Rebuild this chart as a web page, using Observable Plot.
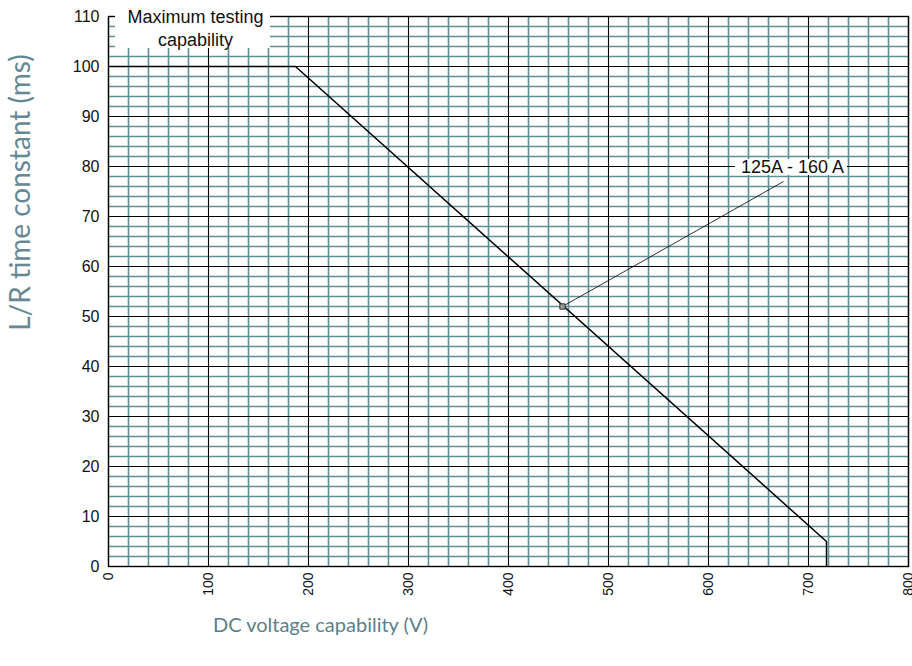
<!DOCTYPE html>
<html>
<head>
<meta charset="utf-8">
<script src="https://cdn.jsdelivr.net/npm/d3@7"></script>
<script src="https://cdn.jsdelivr.net/npm/@observablehq/plot@0.6"></script>
<style>
  html, body { margin: 0; padding: 0; background: #fff; }
  #chart svg { display: block; }
</style>
</head>
<body>
<div id="chart"></div>
<script>
// ---- data ----
const xMajorTicks = [0, 100, 200, 300, 400, 500, 600, 700, 800];
const yMajorTicks = [0, 10, 20, 30, 40, 50, 60, 70, 80, 90, 100, 110];
const xMinorTicks = d3.range(0, 801, 20).filter(v => v % 100 !== 0);
const yMinorTicks = d3.range(0, 111, 2).filter(v => v % 10 !== 0);

const curveVoltage = [0, 187, 718, 718];
const curveTau     = [100, 100, 5, 0];

const markerPoint = {x: 454, y: 52};
const leaderEnd = {x: 675, y: 77};
const seriesLabel = "125A - 160 A";
const seriesLabelPos = {x: 684, y: 79.8};
const maxLabel = "Maximum testing\ncapability";
const maxLabelPos = {x: 87, y: 107.9};

const xTitle = "DC voltage capability (V)";
const yTitle = "L/R time constant (ms)";

const curve = curveVoltage.map((v, i) => ({v, t: curveTau[i]}));

const teal = "#5f8e97";
const titleColor = "#5b7f8a";

const chart = Plot.plot({
  width: 912,
  height: 666,
  marginLeft: 108,
  marginRight: 4,
  marginTop: 16,
  marginBottom: 100,
  style: {fontFamily: "'Liberation Sans', Arial, sans-serif", background: "#fff"},
  x: {domain: [0, 800]},
  y: {domain: [0, 110]},
  marks: [
    Plot.ruleX(xMinorTicks, {stroke: teal, strokeWidth: 1.6}),
    Plot.ruleY(yMinorTicks, {stroke: teal, strokeWidth: 1.6}),
    Plot.ruleX(xMajorTicks, {stroke: "#000", strokeWidth: 1.1}),
    Plot.ruleY(yMajorTicks, {stroke: "#000", strokeWidth: 1.1}),
    Plot.frame({stroke: "#000", strokeWidth: 1.4}),
    // white box behind "Maximum testing capability"
    Plot.rect([0], {x1: 7, x2: 162, y1: 103.6, y2: 111.3, fill: "#fff"}),
    Plot.text([maxLabel], {x: maxLabelPos.x, y: maxLabelPos.y, text: d => d, fontSize: 18, fill: "#111", lineHeight: 1.27}),
    // curve
    Plot.line(curve, {x: "v", y: "t", stroke: "#000", strokeWidth: 1.5}),
    // leader + marker
    Plot.link([0], {x1: markerPoint.x, y1: markerPoint.y, x2: leaderEnd.x, y2: leaderEnd.y, stroke: "#000", strokeWidth: 0.8}),
    Plot.dot([markerPoint], {x: "x", y: "y", symbol: "square", r: 3, fill: "#9a9a9a", stroke: "#333", strokeWidth: 1}),
    // series label with white background
    Plot.rect([0], {x1: 627, x2: 739, y1: 78.2, y2: 81.4, fill: "#fff"}),
    Plot.text([seriesLabel], {x: seriesLabelPos.x, y: seriesLabelPos.y, text: d => d, fontSize: 18, fill: "#111"}),
    // axes
    Plot.axisX(xMajorTicks, {tickSize: 0, tickPadding: 6, tickRotate: -90, fontSize: 14, label: null, fill: "#111"}),
    Plot.axisY(yMajorTicks, {tickSize: 0, tickPadding: 9, fontSize: 16, label: null, fill: "#111"}),
    // axis titles
    Plot.text([xTitle], {x: 0, y: -11.8, dx: 212, text: d => d, textAnchor: "middle", fontSize: 20, fill: titleColor, fontFamily: "Lato, 'Open Sans', sans-serif"}),
    Plot.text([yTitle], {x: 0, y: 74.8, dx: -87, text: d => d, rotate: -90, fontSize: 28, fill: "#658893", fontFamily: "Lato, 'Open Sans', sans-serif"})
  ]
});

document.getElementById("chart").appendChild(chart);
</script>
</body>
</html>
